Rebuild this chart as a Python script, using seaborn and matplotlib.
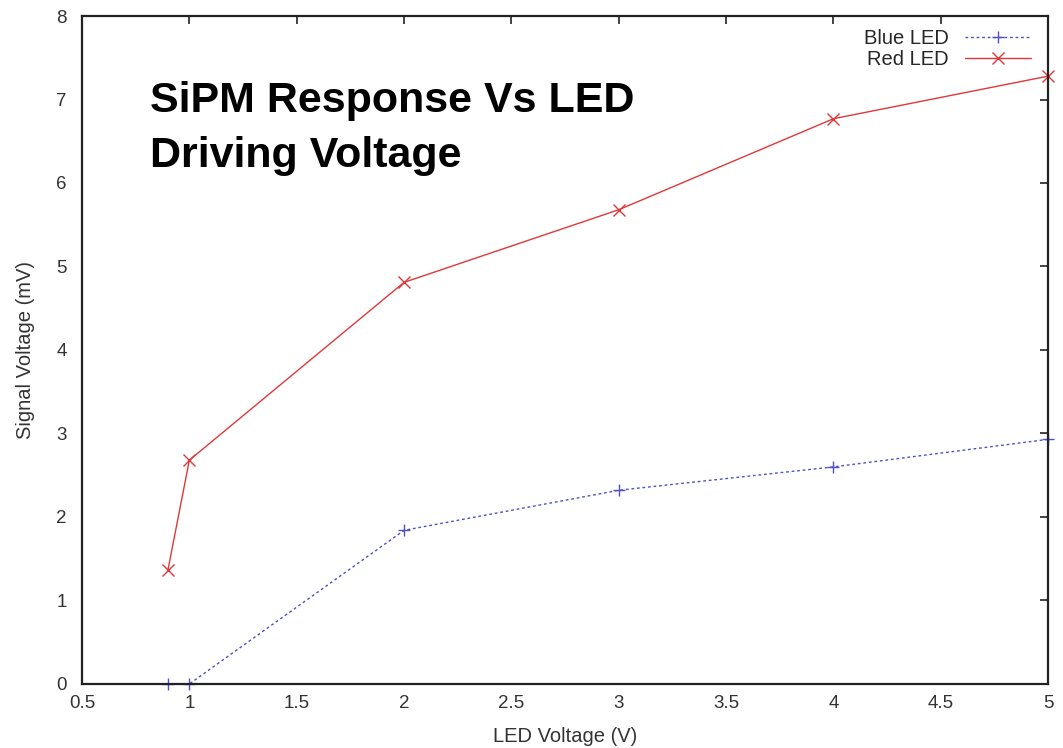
import matplotlib
matplotlib.use("Agg")
import matplotlib.pyplot as plt
import pandas as pd
import seaborn as sns

# values
led_voltage = [0.9, 1.0, 2.0, 3.0, 4.0, 5.0]
blue_signal = [0.0, 0.0, 1.84, 2.32, 2.60, 2.93]
red_signal = [1.36, 2.68, 4.81, 5.68, 6.77, 7.28]

blue_df = pd.DataFrame({"x": led_voltage, "y": blue_signal})
red_df = pd.DataFrame({"x": led_voltage, "y": red_signal})

sns.set_style("white")
plt.rcParams["font.family"] = ["Liberation Sans", "DejaVu Sans"]

fig = plt.figure(figsize=(10.63, 7.48), dpi=100)
ax = fig.add_axes([0.0771, 0.0856, 0.909, 0.893])

blue = "#5050c8"
red = "#e03838"
sns.lineplot(data=blue_df, x="x", y="y", ax=ax, color=blue, label="Blue LED",
             marker="+", markersize=9, markeredgecolor=blue, markeredgewidth=1.0,
             linewidth=1.0, dashes=(2, 2), clip_on=False)
sns.lineplot(data=red_df, x="x", y="y", ax=ax, color=red, label="Red LED",
             marker="x", markersize=8, markeredgecolor=red, markeredgewidth=1.0,
             linewidth=1.0, clip_on=False)

ax.set_xlim(0.5, 5)
ax.set_ylim(0, 8)
ax.set_xticks([0.5, 1, 1.5, 2, 2.5, 3, 3.5, 4, 4.5, 5])
ax.set_xticklabels(["0.5", "1", "1.5", "2", "2.5", "3", "3.5", "4", "4.5", "5"])
ax.set_yticks(range(0, 9))
ax.tick_params(direction="in", top=True, right=True, length=6, width=1.2,
               color="#222222", labelsize=13.5, labelcolor="#333333")
ax.tick_params(axis="y", pad=11)
ax.tick_params(axis="x", pad=8)
for sp in ax.spines.values():
    sp.set_color("#222222")
    sp.set_linewidth(1.6)

ax.set_xlabel("LED Voltage (V)", fontsize=14.5, color="#333333", labelpad=11)
ax.set_ylabel("Signal Voltage (mV)", fontsize=14.5, color="#333333", labelpad=15)

ax.text(0.07, 0.903, "SiPM Response Vs LED\nDriving Voltage", transform=ax.transAxes,
        fontsize=31, fontweight="bold", va="top", ha="left", linespacing=1.5,
        color="black")

ax.legend(loc="upper right", frameon=False, markerfirst=False, fontsize=14.5,
          handlelength=3.3, handletextpad=0.8, borderaxespad=0.2, labelspacing=0.08,
          bbox_to_anchor=(0.995, 0.998))

fig.savefig("out.png", dpi=100)
